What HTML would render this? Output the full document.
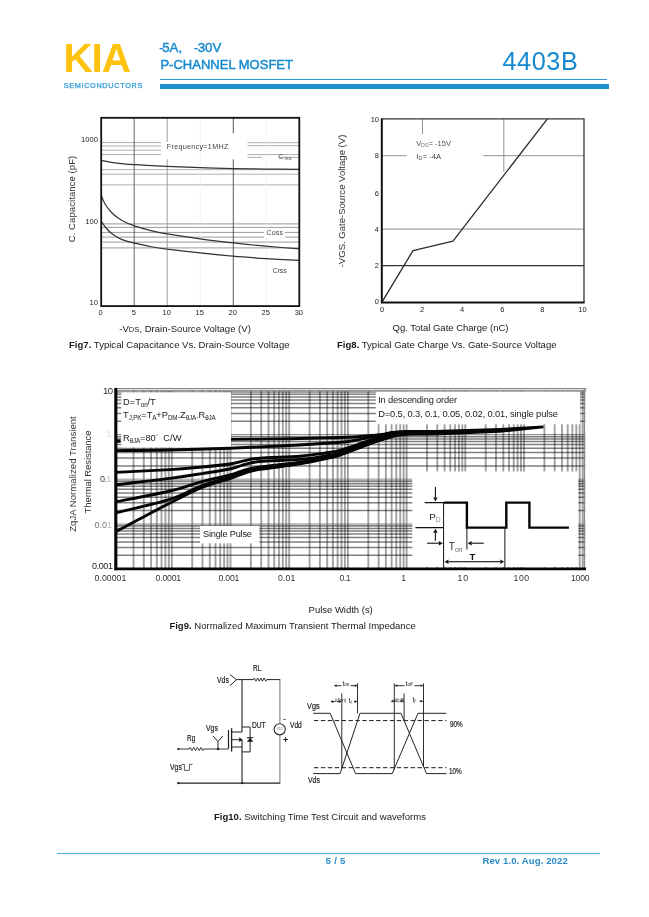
<!DOCTYPE html>
<html><head><meta charset="utf-8"><title>4403B</title>
<style>
html,body{margin:0;padding:0;background:#fff}
body{width:649px;height:917px;position:relative;overflow:hidden;font-family:"Liberation Sans",sans-serif}
.t{position:absolute;white-space:nowrap;font-family:"Liberation Sans",sans-serif}
.sb{font-size:68%;vertical-align:-2.2px;letter-spacing:-0.2px}
svg{position:absolute;left:0;top:0}
</style></head><body>
<svg width="649" height="917" viewBox="0 0 649 917">
<g id="fig7"><line x1="101.2" y1="142.6" x2="161.0" y2="142.6" stroke="#9a9a9a" stroke-width="0.80"/><line x1="101.2" y1="146.0" x2="161.0" y2="146.0" stroke="#9a9a9a" stroke-width="0.80"/><line x1="101.2" y1="150.2" x2="161.0" y2="150.2" stroke="#9a9a9a" stroke-width="0.80"/><line x1="101.2" y1="154.6" x2="161.0" y2="154.6" stroke="#9a9a9a" stroke-width="0.80"/><line x1="247.5" y1="142.7" x2="299.3" y2="142.7" stroke="#9a9a9a" stroke-width="0.80"/><line x1="247.5" y1="145.6" x2="299.3" y2="145.6" stroke="#9a9a9a" stroke-width="0.80"/><line x1="247.5" y1="154.6" x2="299.3" y2="154.6" stroke="#9a9a9a" stroke-width="0.80"/><line x1="247.5" y1="157.4" x2="262.0" y2="157.4" stroke="#9a9a9a" stroke-width="0.80"/><line x1="279.0" y1="157.4" x2="299.3" y2="157.4" stroke="#9a9a9a" stroke-width="0.80"/><line x1="101.2" y1="169.7" x2="299.3" y2="169.7" stroke="#9a9a9a" stroke-width="0.80"/><line x1="101.2" y1="174.2" x2="299.3" y2="174.2" stroke="#9a9a9a" stroke-width="0.80"/><line x1="101.2" y1="184.9" x2="299.3" y2="184.9" stroke="#9a9a9a" stroke-width="0.80"/><line x1="101.2" y1="223.9" x2="299.3" y2="223.9" stroke="#808080" stroke-width="0.80"/><line x1="101.2" y1="227.4" x2="299.3" y2="227.4" stroke="#808080" stroke-width="0.80"/><line x1="101.2" y1="232.4" x2="299.3" y2="232.4" stroke="#808080" stroke-width="0.80"/><line x1="101.2" y1="237.1" x2="299.3" y2="237.1" stroke="#808080" stroke-width="0.80"/><line x1="101.2" y1="242.1" x2="299.3" y2="242.1" stroke="#808080" stroke-width="0.80"/><line x1="101.2" y1="247.9" x2="299.3" y2="247.9" stroke="#808080" stroke-width="0.80"/><line x1="134.2" y1="117.8" x2="134.2" y2="306.1" stroke="#555" stroke-width="0.90"/><line x1="167.2" y1="117.8" x2="167.2" y2="142.0" stroke="#888" stroke-width="0.80"/><line x1="167.2" y1="159.3" x2="167.2" y2="306.1" stroke="#888" stroke-width="0.80"/><line x1="200.2" y1="117.8" x2="200.2" y2="306.1" stroke="#ececec" stroke-width="0.70"/><line x1="233.3" y1="117.8" x2="233.3" y2="133.4" stroke="#444" stroke-width="0.90"/><line x1="233.3" y1="159.3" x2="233.3" y2="306.1" stroke="#444" stroke-width="0.90"/><line x1="266.3" y1="117.8" x2="266.3" y2="306.1" stroke="#ececec" stroke-width="0.70"/><path d="M101.2 160.4 C103.5 160.8 109.5 162.1 115.0 162.8 C120.5 163.5 125.8 164.0 134.5 164.6 C143.2 165.2 156.1 165.8 167.0 166.3 C177.9 166.8 188.9 167.2 200.0 167.6 C211.1 168.0 222.5 168.3 233.5 168.6 C244.5 168.8 255.0 169.0 266.0 169.1 C277.0 169.2 293.8 169.3 299.3 169.4" fill="none" stroke="#333" stroke-width="1.20" stroke-linejoin="round"/><path d="M101.2 195.2 C101.8 196.7 103.2 201.0 105.0 204.0 C106.8 207.0 109.2 210.2 112.0 213.0 C114.8 215.8 118.2 218.3 122.0 220.5 C125.8 222.7 129.8 224.3 134.5 225.9 C139.2 227.5 144.6 229.0 150.0 230.3 C155.4 231.6 158.7 232.5 167.0 233.9 C175.3 235.3 189.0 237.3 200.0 238.8 C211.0 240.3 222.0 241.7 233.0 242.9 C244.0 244.1 254.9 245.2 266.0 246.2 C277.1 247.2 293.8 248.4 299.3 248.9" fill="none" stroke="#333" stroke-width="1.20" stroke-linejoin="round"/><path d="M101.2 220.9 C102.0 222.1 104.0 225.7 106.0 228.0 C108.0 230.3 110.3 232.6 113.0 234.5 C115.7 236.4 118.4 238.2 122.0 239.6 C125.6 241.0 129.8 241.9 134.5 243.1 C139.2 244.2 144.6 245.5 150.0 246.5 C155.4 247.5 158.7 248.1 167.0 249.2 C175.3 250.2 189.0 251.6 200.0 252.8 C211.0 254.0 222.0 255.2 233.0 256.2 C244.0 257.2 254.9 257.9 266.0 258.6 C277.1 259.3 293.8 260.1 299.3 260.4" fill="none" stroke="#333" stroke-width="1.20" stroke-linejoin="round"/><rect x="101.2" y="117.8" width="198.1" height="188.3" fill="none" stroke="#111" stroke-width="1.8"/></g>
<g id="fig8"><line x1="381.8" y1="229.1" x2="584.0" y2="229.1" stroke="#8c8c8c" stroke-width="1.00"/><line x1="381.8" y1="265.7" x2="584.0" y2="265.7" stroke="#333" stroke-width="1.20"/><line x1="381.8" y1="155.7" x2="406.6" y2="155.7" stroke="#777" stroke-width="0.80"/><line x1="483.3" y1="155.7" x2="584.0" y2="155.7" stroke="#777" stroke-width="0.80"/><line x1="422.5" y1="118.8" x2="422.5" y2="134.1" stroke="#777" stroke-width="0.80"/><line x1="503.8" y1="118.8" x2="503.8" y2="171.9" stroke="#777" stroke-width="0.80"/><path d="M381.8 302.4 L413.0 250.6 L453.0 241.1 L547.4 118.8" fill="none" stroke="#2a2a2a" stroke-width="1.30" stroke-linejoin="round"/><path d="M381.8 118.8 H584.0 V302.4" fill="none" stroke="#333" stroke-width="1.3"/><path d="M381.8 118.2 V302.4 H584.6" fill="none" stroke="#111" stroke-width="2"/></g>
<g id="fig9"><g stroke-opacity="0.43"><line x1="133.5" y1="390.0" x2="133.5" y2="568.8" stroke="#000" stroke-width="1.90" stroke-opacity="0.37"/><line x1="143.8" y1="390.0" x2="143.8" y2="568.8" stroke="#000" stroke-width="1.90" stroke-opacity="0.37"/><line x1="151.1" y1="390.0" x2="151.1" y2="568.8" stroke="#000" stroke-width="1.90" stroke-opacity="0.37"/><line x1="156.8" y1="390.0" x2="156.8" y2="568.8" stroke="#000" stroke-width="1.90" stroke-opacity="0.37"/><line x1="161.5" y1="390.0" x2="161.5" y2="568.8" stroke="#000" stroke-width="1.90" stroke-opacity="0.37"/><line x1="165.4" y1="390.0" x2="165.4" y2="568.8" stroke="#000" stroke-width="1.90" stroke-opacity="0.37"/><line x1="168.8" y1="390.0" x2="168.8" y2="568.8" stroke="#000" stroke-width="1.90" stroke-opacity="0.37"/><line x1="171.8" y1="390.0" x2="171.8" y2="568.8" stroke="#000" stroke-width="1.90" stroke-opacity="0.37"/><line x1="192.2" y1="390.0" x2="192.2" y2="568.8" stroke="#000" stroke-width="1.90" stroke-opacity="0.37"/><line x1="202.5" y1="390.0" x2="202.5" y2="568.8" stroke="#000" stroke-width="1.90" stroke-opacity="0.37"/><line x1="209.8" y1="390.0" x2="209.8" y2="568.8" stroke="#000" stroke-width="1.90" stroke-opacity="0.37"/><line x1="215.5" y1="390.0" x2="215.5" y2="568.8" stroke="#000" stroke-width="1.90" stroke-opacity="0.37"/><line x1="220.2" y1="390.0" x2="220.2" y2="568.8" stroke="#000" stroke-width="1.90" stroke-opacity="0.37"/><line x1="224.1" y1="390.0" x2="224.1" y2="568.8" stroke="#000" stroke-width="1.90" stroke-opacity="0.37"/><line x1="227.5" y1="390.0" x2="227.5" y2="568.8" stroke="#000" stroke-width="1.90" stroke-opacity="0.37"/><line x1="230.5" y1="390.0" x2="230.5" y2="568.8" stroke="#000" stroke-width="1.90" stroke-opacity="0.37"/><line x1="250.9" y1="390.0" x2="250.9" y2="568.8" stroke="#000" stroke-width="1.90" stroke-opacity="0.37"/><line x1="261.2" y1="390.0" x2="261.2" y2="568.8" stroke="#000" stroke-width="1.90" stroke-opacity="0.37"/><line x1="268.5" y1="390.0" x2="268.5" y2="568.8" stroke="#000" stroke-width="1.90" stroke-opacity="0.37"/><line x1="274.2" y1="390.0" x2="274.2" y2="568.8" stroke="#000" stroke-width="1.90" stroke-opacity="0.37"/><line x1="278.9" y1="390.0" x2="278.9" y2="568.8" stroke="#000" stroke-width="1.90" stroke-opacity="0.37"/><line x1="282.8" y1="390.0" x2="282.8" y2="568.8" stroke="#000" stroke-width="1.90" stroke-opacity="0.37"/><line x1="286.2" y1="390.0" x2="286.2" y2="568.8" stroke="#000" stroke-width="1.90" stroke-opacity="0.37"/><line x1="289.2" y1="390.0" x2="289.2" y2="568.8" stroke="#000" stroke-width="1.90" stroke-opacity="0.37"/><line x1="309.6" y1="390.0" x2="309.6" y2="568.8" stroke="#000" stroke-width="1.90" stroke-opacity="0.37"/><line x1="319.9" y1="390.0" x2="319.9" y2="568.8" stroke="#000" stroke-width="1.90" stroke-opacity="0.37"/><line x1="327.2" y1="390.0" x2="327.2" y2="568.8" stroke="#000" stroke-width="1.90" stroke-opacity="0.37"/><line x1="332.9" y1="390.0" x2="332.9" y2="568.8" stroke="#000" stroke-width="1.90" stroke-opacity="0.37"/><line x1="337.6" y1="390.0" x2="337.6" y2="568.8" stroke="#000" stroke-width="1.90" stroke-opacity="0.37"/><line x1="341.5" y1="390.0" x2="341.5" y2="568.8" stroke="#000" stroke-width="1.90" stroke-opacity="0.37"/><line x1="344.9" y1="390.0" x2="344.9" y2="568.8" stroke="#000" stroke-width="1.90" stroke-opacity="0.37"/><line x1="347.9" y1="390.0" x2="347.9" y2="568.8" stroke="#000" stroke-width="1.90" stroke-opacity="0.37"/><line x1="368.3" y1="390.0" x2="368.3" y2="568.8" stroke="#000" stroke-width="1.90" stroke-opacity="0.37"/><line x1="378.6" y1="390.0" x2="378.6" y2="568.8" stroke="#000" stroke-width="1.90" stroke-opacity="0.37"/><line x1="385.9" y1="390.0" x2="385.9" y2="568.8" stroke="#000" stroke-width="1.90" stroke-opacity="0.37"/><line x1="391.6" y1="390.0" x2="391.6" y2="568.8" stroke="#000" stroke-width="1.90" stroke-opacity="0.37"/><line x1="396.3" y1="390.0" x2="396.3" y2="568.8" stroke="#000" stroke-width="1.90" stroke-opacity="0.37"/><line x1="400.2" y1="390.0" x2="400.2" y2="568.8" stroke="#000" stroke-width="1.90" stroke-opacity="0.37"/><line x1="403.6" y1="390.0" x2="403.6" y2="568.8" stroke="#000" stroke-width="1.90" stroke-opacity="0.37"/><line x1="406.6" y1="390.0" x2="406.6" y2="568.8" stroke="#000" stroke-width="1.90" stroke-opacity="0.37"/><line x1="427.0" y1="390.0" x2="427.0" y2="568.8" stroke="#000" stroke-width="1.90" stroke-opacity="0.37"/><line x1="437.3" y1="390.0" x2="437.3" y2="568.8" stroke="#000" stroke-width="1.90" stroke-opacity="0.37"/><line x1="444.6" y1="390.0" x2="444.6" y2="568.8" stroke="#000" stroke-width="1.90" stroke-opacity="0.37"/><line x1="450.3" y1="390.0" x2="450.3" y2="568.8" stroke="#000" stroke-width="1.90" stroke-opacity="0.37"/><line x1="455.0" y1="390.0" x2="455.0" y2="568.8" stroke="#000" stroke-width="1.90" stroke-opacity="0.37"/><line x1="458.9" y1="390.0" x2="458.9" y2="568.8" stroke="#000" stroke-width="1.90" stroke-opacity="0.37"/><line x1="462.3" y1="390.0" x2="462.3" y2="568.8" stroke="#000" stroke-width="1.90" stroke-opacity="0.37"/><line x1="465.3" y1="390.0" x2="465.3" y2="568.8" stroke="#000" stroke-width="1.90" stroke-opacity="0.37"/><line x1="485.7" y1="390.0" x2="485.7" y2="568.8" stroke="#000" stroke-width="1.90" stroke-opacity="0.37"/><line x1="496.0" y1="390.0" x2="496.0" y2="568.8" stroke="#000" stroke-width="1.90" stroke-opacity="0.37"/><line x1="503.3" y1="390.0" x2="503.3" y2="568.8" stroke="#000" stroke-width="1.90" stroke-opacity="0.37"/><line x1="509.0" y1="390.0" x2="509.0" y2="568.8" stroke="#000" stroke-width="1.90" stroke-opacity="0.37"/><line x1="513.7" y1="390.0" x2="513.7" y2="568.8" stroke="#000" stroke-width="1.90" stroke-opacity="0.37"/><line x1="517.6" y1="390.0" x2="517.6" y2="568.8" stroke="#000" stroke-width="1.90" stroke-opacity="0.37"/><line x1="521.0" y1="390.0" x2="521.0" y2="568.8" stroke="#000" stroke-width="1.90" stroke-opacity="0.37"/><line x1="524.0" y1="390.0" x2="524.0" y2="568.8" stroke="#000" stroke-width="1.90" stroke-opacity="0.37"/><line x1="544.4" y1="390.0" x2="544.4" y2="568.8" stroke="#000" stroke-width="1.90" stroke-opacity="0.37"/><line x1="554.7" y1="390.0" x2="554.7" y2="568.8" stroke="#000" stroke-width="1.90" stroke-opacity="0.37"/><line x1="562.0" y1="390.0" x2="562.0" y2="568.8" stroke="#000" stroke-width="1.90" stroke-opacity="0.37"/><line x1="567.7" y1="390.0" x2="567.7" y2="568.8" stroke="#000" stroke-width="1.90" stroke-opacity="0.37"/><line x1="572.4" y1="390.0" x2="572.4" y2="568.8" stroke="#000" stroke-width="1.90" stroke-opacity="0.37"/><line x1="576.3" y1="390.0" x2="576.3" y2="568.8" stroke="#000" stroke-width="1.90" stroke-opacity="0.37"/><line x1="579.7" y1="390.0" x2="579.7" y2="568.8" stroke="#000" stroke-width="1.90" stroke-opacity="0.37"/><line x1="582.7" y1="390.0" x2="582.7" y2="568.8" stroke="#000" stroke-width="1.90" stroke-opacity="0.37"/><line x1="115.8" y1="421.2" x2="585.4" y2="421.2" stroke="#000" stroke-width="1.50" stroke-opacity="0.5"/><line x1="115.8" y1="413.4" x2="585.4" y2="413.4" stroke="#000" stroke-width="1.50" stroke-opacity="0.5"/><line x1="115.8" y1="407.8" x2="585.4" y2="407.8" stroke="#000" stroke-width="1.50" stroke-opacity="0.5"/><line x1="115.8" y1="403.5" x2="585.4" y2="403.5" stroke="#000" stroke-width="1.50" stroke-opacity="0.5"/><line x1="115.8" y1="399.9" x2="585.4" y2="399.9" stroke="#000" stroke-width="1.50" stroke-opacity="0.5"/><line x1="115.8" y1="396.9" x2="585.4" y2="396.9" stroke="#000" stroke-width="1.50" stroke-opacity="0.5"/><line x1="115.8" y1="394.3" x2="585.4" y2="394.3" stroke="#000" stroke-width="1.50" stroke-opacity="0.5"/><line x1="115.8" y1="392.0" x2="585.4" y2="392.0" stroke="#000" stroke-width="1.50" stroke-opacity="0.5"/><line x1="115.8" y1="465.9" x2="585.4" y2="465.9" stroke="#000" stroke-width="1.50" stroke-opacity="0.5"/><line x1="115.8" y1="458.1" x2="585.4" y2="458.1" stroke="#000" stroke-width="1.50" stroke-opacity="0.5"/><line x1="115.8" y1="452.5" x2="585.4" y2="452.5" stroke="#000" stroke-width="1.50" stroke-opacity="0.5"/><line x1="115.8" y1="448.2" x2="585.4" y2="448.2" stroke="#000" stroke-width="1.50" stroke-opacity="0.5"/><line x1="115.8" y1="444.6" x2="585.4" y2="444.6" stroke="#000" stroke-width="1.50" stroke-opacity="0.5"/><line x1="115.8" y1="441.6" x2="585.4" y2="441.6" stroke="#000" stroke-width="1.50" stroke-opacity="0.5"/><line x1="115.8" y1="439.0" x2="585.4" y2="439.0" stroke="#000" stroke-width="1.50" stroke-opacity="0.5"/><line x1="115.8" y1="436.7" x2="585.4" y2="436.7" stroke="#000" stroke-width="1.50" stroke-opacity="0.5"/><line x1="115.8" y1="434.7" x2="585.4" y2="434.7" stroke="#000" stroke-width="1.20"/><line x1="115.8" y1="510.6" x2="585.4" y2="510.6" stroke="#000" stroke-width="1.50" stroke-opacity="0.5"/><line x1="115.8" y1="502.8" x2="585.4" y2="502.8" stroke="#000" stroke-width="1.50" stroke-opacity="0.5"/><line x1="115.8" y1="497.2" x2="585.4" y2="497.2" stroke="#000" stroke-width="1.50" stroke-opacity="0.5"/><line x1="115.8" y1="492.9" x2="585.4" y2="492.9" stroke="#000" stroke-width="1.50" stroke-opacity="0.5"/><line x1="115.8" y1="489.3" x2="585.4" y2="489.3" stroke="#000" stroke-width="1.50" stroke-opacity="0.5"/><line x1="115.8" y1="486.3" x2="585.4" y2="486.3" stroke="#000" stroke-width="1.50" stroke-opacity="0.5"/><line x1="115.8" y1="483.7" x2="585.4" y2="483.7" stroke="#000" stroke-width="1.50" stroke-opacity="0.5"/><line x1="115.8" y1="481.4" x2="585.4" y2="481.4" stroke="#000" stroke-width="1.50" stroke-opacity="0.5"/><line x1="115.8" y1="479.8" x2="585.4" y2="479.8" stroke="#555" stroke-width="2.60"/><line x1="115.8" y1="555.3" x2="585.4" y2="555.3" stroke="#000" stroke-width="1.50" stroke-opacity="0.5"/><line x1="115.8" y1="547.5" x2="585.4" y2="547.5" stroke="#000" stroke-width="1.50" stroke-opacity="0.5"/><line x1="115.8" y1="541.9" x2="585.4" y2="541.9" stroke="#000" stroke-width="1.50" stroke-opacity="0.5"/><line x1="115.8" y1="537.6" x2="585.4" y2="537.6" stroke="#000" stroke-width="1.50" stroke-opacity="0.5"/><line x1="115.8" y1="534.0" x2="585.4" y2="534.0" stroke="#000" stroke-width="1.50" stroke-opacity="0.5"/><line x1="115.8" y1="531.0" x2="585.4" y2="531.0" stroke="#000" stroke-width="1.50" stroke-opacity="0.5"/><line x1="115.8" y1="528.4" x2="585.4" y2="528.4" stroke="#000" stroke-width="1.50" stroke-opacity="0.5"/><line x1="115.8" y1="526.1" x2="585.4" y2="526.1" stroke="#000" stroke-width="1.50" stroke-opacity="0.5"/><line x1="115.8" y1="524.5" x2="585.4" y2="524.5" stroke="#555" stroke-width="2.60"/></g><rect x="121.3" y="392.3" width="109.7" height="55.2" fill="#fff"/><rect x="375.8" y="391.6" width="204.4" height="32.7" fill="#fff"/><rect x="412.3" y="471.5" width="165.9" height="95.5" fill="#fff"/><rect x="200.0" y="526.0" width="59.2" height="17.3" fill="#fff"/><line x1="115.8" y1="388.7" x2="586.4" y2="388.7" stroke="#888" stroke-width="1.30"/><line x1="115.8" y1="390.6" x2="586.4" y2="390.6" stroke="#999" stroke-width="1.20"/><line x1="584.4" y1="388.0" x2="584.4" y2="568.8" stroke="#888" stroke-width="1.40"/><path d="M231.0 439.4 C239.2 439.3 264.3 439.1 280.0 438.9 C295.7 438.6 312.8 438.2 325.0 437.9 C337.2 437.6 344.7 437.4 353.0 437.0 C361.3 436.6 368.8 435.9 375.0 435.3 C381.2 434.7 385.8 434.0 390.0 433.5 C394.2 433.0 398.3 432.5 400.0 432.3" fill="none" stroke="#050505" stroke-width="2.90" stroke-linejoin="round"/><path d="M115.8 450.6 C124.8 450.5 151.0 450.4 170.0 450.0 C189.0 449.6 211.7 448.9 230.0 448.2 C248.3 447.5 264.2 446.8 280.0 446.0 C295.8 445.2 313.3 444.0 325.0 443.2 C336.7 442.4 341.7 442.3 350.0 441.2 C358.3 440.1 368.3 437.6 375.0 436.4 C381.7 435.2 385.8 434.6 390.0 434.0 C394.2 433.4 398.3 432.8 400.0 432.6" fill="none" stroke="#050505" stroke-width="2.90" stroke-linejoin="round"/><path d="M115.8 472.4 C124.8 471.9 155.6 470.5 170.0 469.6 C184.4 468.7 192.0 467.9 202.0 467.0 C212.0 466.1 222.8 465.1 230.0 464.0 C237.2 462.9 240.0 461.6 245.0 460.6 C250.0 459.6 250.8 458.9 260.0 458.2 C269.2 457.5 289.2 457.0 300.0 456.2 C310.8 455.4 318.7 454.0 325.0 453.1 C331.3 452.2 333.8 452.0 338.0 451.0 C342.2 450.0 346.0 448.5 350.0 447.2 C354.0 445.9 357.8 444.4 362.0 443.0 C366.2 441.6 370.3 440.0 375.0 438.7 C379.7 437.4 385.8 435.9 390.0 435.0 C394.2 434.1 398.3 433.3 400.0 433.0" fill="none" stroke="#050505" stroke-width="2.90" stroke-linejoin="round"/><path d="M115.8 484.8 C124.8 483.7 155.6 480.3 170.0 478.4 C184.4 476.5 192.0 475.2 202.0 473.6 C212.0 472.0 222.8 470.5 230.0 469.0 C237.2 467.5 240.0 465.6 245.0 464.4 C250.0 463.1 250.8 462.3 260.0 461.5 C269.2 460.7 289.2 460.3 300.0 459.4 C310.8 458.5 318.7 457.0 325.0 456.0 C331.3 455.0 333.8 454.7 338.0 453.6 C342.2 452.5 346.0 450.9 350.0 449.5 C354.0 448.1 357.8 446.6 362.0 445.0 C366.2 443.4 370.0 441.6 375.0 440.0 C380.0 438.4 387.5 436.7 392.0 435.6 C396.5 434.5 400.3 433.6 402.0 433.2" fill="none" stroke="#050505" stroke-width="2.90" stroke-linejoin="round"/><path d="M115.8 501.8 C124.8 500.0 155.6 494.4 170.0 491.0 C184.4 487.6 192.0 484.3 202.0 481.6 C212.0 478.9 222.8 477.0 230.0 475.0 C237.2 473.0 240.0 471.1 245.0 469.8 C250.0 468.5 250.8 468.3 260.0 467.0 C269.2 465.7 289.2 463.7 300.0 462.2 C310.8 460.7 318.7 459.2 325.0 458.0 C331.3 456.8 333.8 456.2 338.0 455.0 C342.2 453.8 346.0 452.1 350.0 450.6 C354.0 449.1 357.8 447.6 362.0 446.0 C366.2 444.4 370.0 442.9 375.0 441.3 C380.0 439.7 387.0 437.6 392.0 436.2 C397.0 434.8 402.8 433.7 405.0 433.2" fill="none" stroke="#050505" stroke-width="2.90" stroke-linejoin="round"/><path d="M115.8 512.8 C124.8 510.5 155.6 503.9 170.0 499.3 C184.4 494.8 192.0 489.2 202.0 485.5 C212.0 481.8 222.8 479.3 230.0 477.0 C237.2 474.7 240.0 473.0 245.0 471.6 C250.0 470.2 250.8 469.8 260.0 468.4 C269.2 467.0 289.2 464.9 300.0 463.2 C310.8 461.5 318.7 459.7 325.0 458.4 C331.3 457.1 333.8 456.6 338.0 455.4 C342.2 454.2 346.0 452.5 350.0 451.0 C354.0 449.5 357.8 448.0 362.0 446.4 C366.2 444.8 370.0 443.3 375.0 441.6 C380.0 439.9 387.0 437.8 392.0 436.4 C397.0 435.0 402.8 433.9 405.0 433.4" fill="none" stroke="#050505" stroke-width="2.90" stroke-linejoin="round"/><path d="M115.8 531.8 C119.8 529.6 131.0 523.6 140.0 518.8 C149.0 514.0 159.7 508.2 170.0 503.0 C180.3 497.8 192.0 491.6 202.0 487.5 C212.0 483.4 222.8 481.0 230.0 478.6 C237.2 476.2 240.0 474.5 245.0 473.0 C250.0 471.5 250.8 470.9 260.0 469.4 C269.2 467.9 289.2 465.7 300.0 463.9 C310.8 462.1 318.7 460.1 325.0 458.8 C331.3 457.5 333.8 457.0 338.0 455.8 C342.2 454.6 346.0 452.9 350.0 451.4 C354.0 449.9 357.8 448.4 362.0 446.8 C366.2 445.2 370.0 443.6 375.0 441.9 C380.0 440.2 387.0 438.0 392.0 436.6 C397.0 435.2 402.8 434.0 405.0 433.5" fill="none" stroke="#050505" stroke-width="2.90" stroke-linejoin="round"/><path d="M385 432.4 C392 431 398 430.2 406 430.1 L435 430 L500 428 L543.5 425.4 L543.5 428.2 L500 432.8 L435 435.6 L410 435.8 C402 436 396 436.6 388 438 Z" fill="#050505"/><rect x="115" y="439.5" width="5.5" height="3.2" fill="#050505"/><line x1="115.8" y1="388.0" x2="115.8" y2="570.2" stroke="#050505" stroke-width="3.10"/><line x1="114.4" y1="568.8" x2="586.0" y2="568.8" stroke="#050505" stroke-width="2.80"/><path d="M444 502.6 H466.9 V527.6 H506.3 V502.6 H529.4 V527.6 H568.9" fill="none" stroke="#050505" stroke-width="2.4"/><path d="M424.7 502.6 H444.7 M415.4 527.6 H444 " fill="none" stroke="#111" stroke-width="1.4"/><path d="M443.6 502 V568 M466.9 527 V549.4 M504.9 527 V568" fill="none" stroke="#111" stroke-width="1.0"/><path d="M435.4 487.1 L435.4 497.5" stroke="#111" stroke-width="1.10"/><path d="M435.4 501.4 L433.2 497.5 L437.6 497.5 Z" fill="#111"/><path d="M435.4 540.7 L435.4 532.7" stroke="#111" stroke-width="1.10"/><path d="M435.4 528.8 L437.6 532.7 L433.2 532.7 Z" fill="#111"/><path d="M427.0 543.2 L438.9 543.2" stroke="#111" stroke-width="1.10"/><path d="M442.8 543.2 L438.9 545.4 L438.9 541.0 Z" fill="#111"/><path d="M483.8 543.2 L471.7 543.2" stroke="#111" stroke-width="1.10"/><path d="M467.8 543.2 L471.7 541.0 L471.7 545.4 Z" fill="#111"/><path d="M474.0 561.7 L448.5 561.7" stroke="#111" stroke-width="1.10"/><path d="M444.6 561.7 L448.5 559.5 L448.5 563.9 Z" fill="#111"/><path d="M474.0 561.7 L500.3 561.7" stroke="#111" stroke-width="1.10"/><path d="M504.2 561.7 L500.3 563.9 L500.3 559.5 Z" fill="#111"/></g>
<g id="fig10"><path d="M236.4 679.6 H253.5 M266.6 679.6 H280.2" fill="none" stroke="#222" stroke-width="1.00" /><path d="M253.5 679.6 L254.3 678.0 L256.0 681.2 L257.6 678.0 L259.2 681.2 L260.9 678.0 L262.5 681.2 L264.1 678.0 L265.8 681.2 L266.6 679.6" fill="none" stroke="#222" stroke-width="0.90" /><path d="M229.9 674.4 L236.4 679.8 L229.9 685.7" fill="none" stroke="#222" stroke-width="1.00" /><path d="M242 679.6 V732 M242 739.7 V783.1" fill="none" stroke="#222" stroke-width="1.10" /><path d="M279.9 679.6 V723.4 M279.9 735.2 V783.1" fill="none" stroke="#8a8a8a" stroke-width="1.20" /><path d="M178.3 783.1 H280.2" fill="none" stroke="#222" stroke-width="1.10" /><circle cx="178.3" cy="783.1" r="1.2" fill="#222"/><circle cx="242.2" cy="783.1" r="1.2" fill="#222"/><circle cx="279.7" cy="729.3" r="5.6" fill="none" stroke="#2a2a2a" stroke-width="1.1"/><path d="M228.5 730 V748.6" fill="none" stroke="#222" stroke-width="1.20" /><path d="M231.6 728.2 V751.6" fill="none" stroke="#222" stroke-width="1.30" /><path d="M231.6 732 H242 M231.6 747 H242 M231.6 739.7 H239.6" fill="none" stroke="#222" stroke-width="1.00" /><path d="M242.6 739.7 L239.2 737.3 L239.2 742.1 Z" fill="#111"/><path d="M242 727 H250.1 V751.9 H242" fill="none" stroke="#222" stroke-width="1.00" /><path d="M247 741.7 L253.2 741.7 L250.1 737.7 Z" fill="#111"/><path d="M246.9 737.7 H253.3" fill="none" stroke="#222" stroke-width="1.10" /><path d="M178.3 749 H189.3 M203.7 749 H228.6" fill="none" stroke="#222" stroke-width="0.90" /><path d="M189.3 749.0 L190.2 747.4 L192.0 750.6 L193.8 747.4 L195.6 750.6 L197.4 747.4 L199.2 750.6 L201.0 747.4 L202.8 750.6 L203.7 749.0" fill="none" stroke="#222" stroke-width="0.90" /><circle cx="178.3" cy="749" r="1.1" fill="#222"/><circle cx="218" cy="749" r="1.2" fill="#222"/><path d="M213.1 736 L218 741.6 L222.8 736 M218 741.6 V749" fill="none" stroke="#222" stroke-width="1.00" /><path d="M181.6 764.4 H184.4 V770.4 H189.4 V764.4 H192.6" fill="none" stroke="#333" stroke-width="0.80" /><path d="M313.2 713.3 H330.2 L355.6 773.6 H392.2 L418 713.3 H446.4" fill="none" stroke="#222" stroke-width="1.00" /><path d="M313.2 773.6 H340.1 L360 713.3 H401 L426.5 773.6 H446.4" fill="none" stroke="#222" stroke-width="1.00" /><path d="M314 720.6 H446.4 M314 767.7 H446.4" fill="none" stroke="#1a1a1a" stroke-width="1.00" stroke-dasharray="4.4 2.5"/><path d="M341.8 693.5 V768.3 M357.5 683.3 V713.4 M394.3 683.3 V769.8 M404.1 693.5 V721 M423.5 683.3 V766.8" fill="none" stroke="#222" stroke-width="0.95" /><path d="M341.3 685.7 L336.7 685.7" stroke="#1a1a1a" stroke-width="0.90"/><path d="M333.9 685.7 L336.7 684.3 L336.7 687.1 Z" fill="#1a1a1a"/><path d="M350.5 685.7 L354.7 685.7" stroke="#1a1a1a" stroke-width="0.90"/><path d="M357.5 685.7 L354.7 687.1 L354.7 684.3 Z" fill="#1a1a1a"/><path d="M335.5 701.6 L333.2 701.6" stroke="#1a1a1a" stroke-width="0.90"/><path d="M330.4 701.6 L333.2 700.2 L333.2 703.0 Z" fill="#1a1a1a"/><path d="M337.0 701.6 L338.8 701.6" stroke="#1a1a1a" stroke-width="0.90"/><path d="M341.6 701.6 L338.8 703.0 L338.8 700.2 Z" fill="#1a1a1a"/><path d="M354.0 701.6 L354.5 701.6" stroke="#1a1a1a" stroke-width="0.90"/><path d="M357.3 701.6 L354.5 703.0 L354.5 700.2 Z" fill="#1a1a1a"/><path d="M404.5 685.7 L397.3 685.7" stroke="#1a1a1a" stroke-width="0.90"/><path d="M394.5 685.7 L397.3 684.3 L397.3 687.1 Z" fill="#1a1a1a"/><path d="M414.5 685.7 L420.5 685.7" stroke="#1a1a1a" stroke-width="0.90"/><path d="M423.3 685.7 L420.5 687.1 L420.5 684.3 Z" fill="#1a1a1a"/><path d="M395.5 701.2 L393.4 701.2" stroke="#1a1a1a" stroke-width="0.90"/><path d="M390.6 701.2 L393.4 699.8 L393.4 702.6 Z" fill="#1a1a1a"/><path d="M400.0 701.2 L401.1 701.2" stroke="#1a1a1a" stroke-width="0.90"/><path d="M403.9 701.2 L401.1 702.6 L401.1 699.8 Z" fill="#1a1a1a"/><path d="M419.5 701.2 L420.5 701.2" stroke="#1a1a1a" stroke-width="0.90"/><path d="M423.3 701.2 L420.5 702.6 L420.5 699.8 Z" fill="#1a1a1a"/></g>
</svg>
<div id="tx" style="position:absolute;left:0;top:0;width:649px;height:917px;will-change:transform">
<div class="t" style="left:63.40px;top:34.17px;font-size:40.50px;line-height:48.60px;font-weight:bold;letter-spacing:-1.124px;color:#ffc20e;">KIA</div>
<div class="t" style="left:63.70px;top:81.80px;font-size:7.30px;line-height:8.76px;letter-spacing:0.659px;color:#2b9ad6;-webkit-text-stroke:0.25px #2b9ad6;">SEMICONDUCTORS</div>
<div class="t" style="left:159.30px;top:40.27px;font-size:13.30px;line-height:15.96px;color:#1489cf;-webkit-text-stroke:0.4px #1489cf;"><span style="margin-right:-1.6px">-</span>5A,</div>
<div class="t" style="left:193.80px;top:40.27px;font-size:13.30px;line-height:15.96px;color:#1489cf;-webkit-text-stroke:0.4px #1489cf;"><span style="margin-right:-0.6px">-</span>30V</div>
<div class="t" style="left:160.40px;top:56.65px;font-size:13.00px;line-height:15.60px;letter-spacing:0.012px;color:#1489cf;-webkit-text-stroke:0.45px #1489cf;">P-CHANNEL MOSFET</div>
<div class="t" style="left:502.40px;top:45.87px;font-size:25.20px;line-height:30.24px;letter-spacing:0.633px;color:#1489cf;">4403B</div>
<div style="position:absolute;left:159.5px;top:79px;width:447px;height:1px;background:#2d97d3"></div>
<div style="position:absolute;left:159.5px;top:84.4px;width:449.5px;height:4.2px;background:#1f8fce"></div>
<div style="position:absolute;left:56.5px;top:853px;width:543.5px;height:1px;background:#4aaedb"></div>
<div class="t" style="left:325.60px;top:855.05px;font-size:9.60px;line-height:11.52px;font-weight:bold;letter-spacing:0.280px;color:#2a8cc9;">5 / 5</div>
<div class="t" style="left:482.40px;top:855.05px;font-size:9.60px;line-height:11.52px;font-weight:bold;letter-spacing:0.085px;color:#2a8cc9;">Rev 1.0. Aug. 2022</div>
<div class="t" style="left:69.00px;top:338.61px;font-size:9.55px;line-height:12px;letter-spacing:0.010px;color:#1a1a1a"><b>Fig7.</b> Typical Capacitance Vs. Drain-Source Voltage</div>
<div class="t" style="left:337.00px;top:338.61px;font-size:9.55px;line-height:12px;letter-spacing:0.000px;color:#1a1a1a"><b>Fig8.</b> Typical Gate Charge Vs. Gate-Source Voltage</div>
<div class="t" style="left:169.40px;top:619.71px;font-size:9.55px;line-height:12px;letter-spacing:-0.004px;color:#1a1a1a"><b>Fig9.</b> Normalized Maximum Transient Thermal Impedance</div>
<div class="t" style="left:213.90px;top:810.71px;font-size:9.55px;line-height:12px;letter-spacing:0.013px;color:#1a1a1a"><b>Fig10.</b> Switching Time Test Circuit and waveforms</div>
<div class="t" style="left:98.00px;top:134.73px;font-size:7.60px;line-height:9.12px;transform:translateX(-100%);color:#1c1c1c;">1000</div>
<div class="t" style="left:98.00px;top:216.63px;font-size:7.60px;line-height:9.12px;transform:translateX(-100%);color:#1c1c1c;">100</div>
<div class="t" style="left:98.00px;top:298.43px;font-size:7.60px;line-height:9.12px;transform:translateX(-100%);color:#1c1c1c;">10</div>
<div class="t" style="left:100.70px;top:307.99px;font-size:7.50px;line-height:9.00px;transform:translateX(-50%);color:#1c1c1c;">0</div>
<div class="t" style="left:133.72px;top:307.99px;font-size:7.50px;line-height:9.00px;transform:translateX(-50%);color:#1c1c1c;">5</div>
<div class="t" style="left:166.73px;top:307.99px;font-size:7.50px;line-height:9.00px;transform:translateX(-50%);color:#1c1c1c;">10</div>
<div class="t" style="left:199.75px;top:307.99px;font-size:7.50px;line-height:9.00px;transform:translateX(-50%);color:#1c1c1c;">15</div>
<div class="t" style="left:232.77px;top:307.99px;font-size:7.50px;line-height:9.00px;transform:translateX(-50%);color:#1c1c1c;">20</div>
<div class="t" style="left:265.78px;top:307.99px;font-size:7.50px;line-height:9.00px;transform:translateX(-50%);color:#1c1c1c;">25</div>
<div class="t" style="left:298.80px;top:307.99px;font-size:7.50px;line-height:9.00px;transform:translateX(-50%);color:#1c1c1c;">30</div>
<div class="t" style="left:119.30px;top:322.68px;font-size:9.55px;line-height:11.46px;color:#1a1a1a;">-V<span style="font-size:7.6px">DS</span>, Drain-Source Voltage (V)</div>
<div class="t" style="left:72.40px;top:198.70px;font-size:9.55px;line-height:9.55px;letter-spacing:0.058px;color:#333;transform:translate(-50%,-50%) rotate(-90deg);">C. Capacitance (pF)</div>
<div class="t" style="left:166.80px;top:143.26px;font-size:7.20px;line-height:8.64px;letter-spacing:0.290px;color:#444;">Frequency=1MHZ</div>
<div class="t" style="left:278.20px;top:153.18px;font-size:7.00px;line-height:8.40px;color:#444;">C</div>
<div class="t" style="left:284.40px;top:154.96px;font-size:5.50px;line-height:6.60px;letter-spacing:0.339px;color:#555;">iss</div>
<div class="t" style="left:266.40px;top:229.18px;font-size:7.00px;line-height:8.40px;letter-spacing:0.251px;color:#444;background:#fff;padding:0 2px;margin-left:-2px;">Coss</div>
<div class="t" style="left:272.50px;top:267.38px;font-size:7.00px;line-height:8.40px;letter-spacing:-0.029px;color:#444;">Crss</div>
<div class="t" style="left:379.00px;top:115.29px;font-size:7.50px;line-height:9.00px;transform:translateX(-100%);color:#1c1c1c;">10</div>
<div class="t" style="left:379.00px;top:151.29px;font-size:7.50px;line-height:9.00px;transform:translateX(-100%);color:#1c1c1c;">8</div>
<div class="t" style="left:379.00px;top:188.99px;font-size:7.50px;line-height:9.00px;transform:translateX(-100%);color:#1c1c1c;">6</div>
<div class="t" style="left:379.00px;top:224.69px;font-size:7.50px;line-height:9.00px;transform:translateX(-100%);color:#1c1c1c;">4</div>
<div class="t" style="left:379.00px;top:261.29px;font-size:7.50px;line-height:9.00px;transform:translateX(-100%);color:#1c1c1c;">2</div>
<div class="t" style="left:379.00px;top:297.09px;font-size:7.50px;line-height:9.00px;transform:translateX(-100%);color:#1c1c1c;">0</div>
<div class="t" style="left:382.00px;top:305.29px;font-size:7.50px;line-height:9.00px;transform:translateX(-50%);color:#1c1c1c;">0</div>
<div class="t" style="left:422.10px;top:305.29px;font-size:7.50px;line-height:9.00px;transform:translateX(-50%);color:#1c1c1c;">2</div>
<div class="t" style="left:462.20px;top:305.29px;font-size:7.50px;line-height:9.00px;transform:translateX(-50%);color:#1c1c1c;">4</div>
<div class="t" style="left:502.30px;top:305.29px;font-size:7.50px;line-height:9.00px;transform:translateX(-50%);color:#1c1c1c;">6</div>
<div class="t" style="left:542.40px;top:305.29px;font-size:7.50px;line-height:9.00px;transform:translateX(-50%);color:#1c1c1c;">8</div>
<div class="t" style="left:582.50px;top:305.29px;font-size:7.50px;line-height:9.00px;transform:translateX(-50%);color:#1c1c1c;">10</div>
<div class="t" style="left:392.50px;top:322.38px;font-size:9.55px;line-height:11.46px;letter-spacing:-0.024px;color:#1a1a1a;">Qg. Total Gate Charge (nC)</div>
<div class="t" style="left:341.70px;top:201.00px;font-size:9.55px;line-height:9.55px;letter-spacing:0.000px;color:#333;transform:translate(-50%,-50%) rotate(-90deg);">-VGS. Gate-Source Voltage (V)</div>
<div class="t" style="left:416.20px;top:139.33px;font-size:7.60px;line-height:9.12px;color:#555;">V</div>
<div class="t" style="left:421.00px;top:142.12px;font-size:5.40px;line-height:6.48px;color:#777;">DS</div>
<div class="t" style="left:428.40px;top:139.33px;font-size:7.60px;line-height:9.12px;color:#555;">= -15V</div>
<div class="t" style="left:416.20px;top:152.23px;font-size:7.60px;line-height:9.12px;color:#444;">I</div>
<div class="t" style="left:418.40px;top:155.02px;font-size:5.40px;line-height:6.48px;color:#555;">D</div>
<div class="t" style="left:422.80px;top:152.23px;font-size:7.60px;line-height:9.12px;color:#444;">= -4A</div>
<div class="t" style="left:103.00px;top:385.05px;font-size:9.60px;line-height:11.52px;letter-spacing:-0.478px;color:#2a2a2a;">10</div>
<div class="t" style="left:111.50px;top:429.00px;font-size:9.00px;line-height:10.80px;transform:translateX(-100%);color:#dcdcdc;">1</div>
<div class="t" style="left:99.90px;top:473.50px;font-size:9.00px;line-height:10.80px;letter-spacing:-0.556px;color:#444;">0.<span style="color:#bbb">1</span></div>
<div class="t" style="left:94.50px;top:519.50px;font-size:9.00px;line-height:10.80px;letter-spacing:-0.006px;color:#777;">0.0<span style="color:#bbb">1</span></div>
<div class="t" style="left:91.90px;top:561.10px;font-size:9.00px;line-height:10.80px;letter-spacing:-0.381px;color:#222;">0.001</div>
<div class="t" style="left:94.50px;top:573.08px;font-size:8.70px;line-height:10.44px;letter-spacing:0.076px;color:#333;">0.00001</div>
<div class="t" style="left:155.50px;top:573.08px;font-size:8.70px;line-height:10.44px;letter-spacing:-0.182px;color:#333;">0.0001</div>
<div class="t" style="left:218.40px;top:573.08px;font-size:8.70px;line-height:10.44px;letter-spacing:-0.193px;color:#333;">0.001</div>
<div class="t" style="left:278.00px;top:573.08px;font-size:8.70px;line-height:10.44px;letter-spacing:0.123px;color:#333;">0.01</div>
<div class="t" style="left:339.50px;top:573.08px;font-size:8.70px;line-height:10.44px;letter-spacing:-0.547px;color:#333;">0.1</div>
<div class="t" style="left:401.20px;top:573.08px;font-size:8.70px;line-height:10.44px;color:#333;">1</div>
<div class="t" style="left:457.60px;top:573.08px;font-size:8.70px;line-height:10.44px;letter-spacing:0.923px;color:#333;">10</div>
<div class="t" style="left:513.60px;top:573.08px;font-size:8.70px;line-height:10.44px;letter-spacing:0.543px;color:#333;">100</div>
<div class="t" style="left:571.00px;top:573.08px;font-size:8.70px;line-height:10.44px;letter-spacing:-0.251px;color:#333;">1000</div>
<div class="t" style="left:308.60px;top:604.21px;font-size:9.50px;line-height:11.40px;letter-spacing:-0.015px;color:#1a1a1a;">Pulse Width (s)</div>
<div class="t" style="left:72.60px;top:474.00px;font-size:9.55px;line-height:9.55px;letter-spacing:0.040px;color:#333;transform:translate(-50%,-50%) rotate(-90deg);">ZqJA Normalized Transient</div>
<div class="t" style="left:88.30px;top:471.70px;font-size:9.55px;line-height:9.55px;letter-spacing:-0.113px;color:#333;transform:translate(-50%,-50%) rotate(-90deg);">Thermal Resistance</div>
<div class="t" style="left:123.00px;top:396.53px;font-size:9.30px;line-height:11.16px;color:#1a1a1a;">D=T<span class="sb">on</span>/T</div>
<div class="t" style="left:123.00px;top:409.53px;font-size:9.30px;line-height:11.16px;color:#1a1a1a;">T<span class="sb">J,PK</span>=T<span class="sb">A</span>+P<span class="sb">DM</span>.Z<span class="sb">&theta;JA</span>.R<span class="sb">&theta;JA</span></div>
<div class="t" style="left:123.00px;top:431.03px;font-size:9.30px;line-height:11.16px;color:#1a1a1a;">R<span class="sb">&theta;JA</span>=80<span style="font-size:6px;vertical-align:3px;color:#777">&deg;</span>&nbsp; C/W</div>
<div class="t" style="left:378.20px;top:395.43px;font-size:9.30px;line-height:11.16px;letter-spacing:-0.183px;color:#1a1a1a;">In descending order</div>
<div class="t" style="left:378.20px;top:408.53px;font-size:9.30px;line-height:11.16px;letter-spacing:-0.123px;color:#1a1a1a;">D=0.5, 0.3, 0.1, 0.05, 0.02, 0.01, single pulse</div>
<div class="t" style="left:203.00px;top:529.19px;font-size:9.20px;line-height:11.04px;letter-spacing:-0.195px;color:#1a1a1a;">Single Pulse</div>
<div class="t" style="left:429.20px;top:511.07px;font-size:9.90px;line-height:11.88px;color:#222;">P<span class="sb" style="color:#888">D</span></div>
<div class="t" style="left:448.80px;top:540.72px;font-size:10.00px;line-height:12.00px;color:#222;">T<span class="sb" style="color:#666">on</span></div>
<div class="t" style="left:469.40px;top:550.95px;font-size:9.60px;line-height:11.52px;font-weight:bold;color:#111;">T</div>
<div class="t" style="left:253.10px;top:662.70px;font-size:8.50px;line-height:10.20px;transform-origin:0 50%;transform:scaleX(0.755);color:#1c1c1c;-webkit-text-stroke:0.2px #1c1c1c;">RL</div>
<div class="t" style="left:216.60px;top:675.20px;font-size:8.50px;line-height:10.20px;transform-origin:0 50%;transform:scaleX(0.806);color:#1c1c1c;-webkit-text-stroke:0.2px #1c1c1c;">Vds</div>
<div class="t" style="left:252.40px;top:720.20px;font-size:8.50px;line-height:10.20px;transform-origin:0 50%;transform:scaleX(0.779);color:#1c1c1c;-webkit-text-stroke:0.2px #1c1c1c;">DUT</div>
<div class="t" style="left:290.10px;top:720.20px;font-size:8.50px;line-height:10.20px;transform-origin:0 50%;transform:scaleX(0.780);color:#1c1c1c;-webkit-text-stroke:0.2px #1c1c1c;">Vdd</div>
<div class="t" style="left:283.20px;top:713.89px;font-size:8.00px;line-height:9.60px;font-weight:bold;color:#222;">-</div>
<div class="t" style="left:283.00px;top:735.30px;font-size:9.00px;line-height:10.80px;font-weight:bold;color:#111;">+</div>
<div class="t" style="left:206.30px;top:722.80px;font-size:8.50px;line-height:10.20px;transform-origin:0 50%;transform:scaleX(0.806);color:#1c1c1c;-webkit-text-stroke:0.2px #1c1c1c;">Vgs</div>
<div class="t" style="left:186.70px;top:733.00px;font-size:8.50px;line-height:10.20px;transform-origin:0 50%;transform:scaleX(0.755);color:#1c1c1c;-webkit-text-stroke:0.2px #1c1c1c;">Rg</div>
<div class="t" style="left:169.60px;top:761.80px;font-size:8.50px;line-height:10.20px;transform-origin:0 50%;transform:scaleX(0.806);color:#1c1c1c;-webkit-text-stroke:0.2px #1c1c1c;">Vgs</div>
<div class="t" style="left:307.30px;top:700.60px;font-size:8.50px;line-height:10.20px;transform-origin:0 50%;transform:scaleX(0.860);color:#1c1c1c;-webkit-text-stroke:0.2px #1c1c1c;">Vgs</div>
<div class="t" style="left:308.20px;top:775.20px;font-size:8.50px;line-height:10.20px;transform-origin:0 50%;transform:scaleX(0.812);color:#1c1c1c;-webkit-text-stroke:0.2px #1c1c1c;">Vds</div>
<div class="t" style="left:449.90px;top:719.40px;font-size:8.50px;line-height:10.20px;transform-origin:0 50%;transform:scaleX(0.752);color:#1c1c1c;-webkit-text-stroke:0.2px #1c1c1c;">90%</div>
<div class="t" style="left:449.40px;top:765.70px;font-size:8.50px;line-height:10.20px;transform-origin:0 50%;transform:scaleX(0.752);color:#1c1c1c;-webkit-text-stroke:0.2px #1c1c1c;">10%</div>
<div class="t" style="left:342.40px;top:680.43px;font-size:6.40px;line-height:7.68px;color:#222;">t<span style="font-size:4.6px">on</span></div>
<div class="t" style="left:335.20px;top:698.09px;font-size:4.60px;line-height:5.52px;color:#333;letter-spacing:-0.2px;">td(on)</div>
<div class="t" style="left:348.60px;top:697.20px;font-size:6.80px;line-height:8.16px;color:#222;">t<span style="font-size:4.6px;vertical-align:-1px">r</span></div>
<div class="t" style="left:405.80px;top:679.83px;font-size:6.40px;line-height:7.68px;color:#222;">t<span style="font-size:4.6px">off</span></div>
<div class="t" style="left:393.60px;top:697.89px;font-size:4.60px;line-height:5.52px;color:#333;letter-spacing:-0.2px;">td(off)</div>
<div class="t" style="left:412.40px;top:695.80px;font-size:6.80px;line-height:8.16px;color:#222;">t<span style="font-size:4.6px;vertical-align:-1px">f</span></div>
<div class="t" style="left:276.80px;top:727.73px;font-size:3.00px;line-height:3.60px;color:#777;">VDC</div>
</div>
</body></html>
